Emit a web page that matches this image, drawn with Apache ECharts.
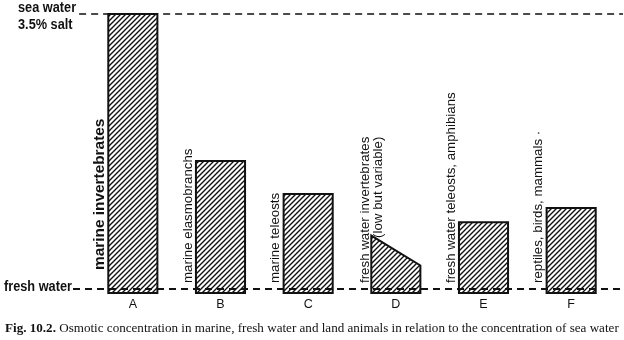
<!DOCTYPE html>
<html><head><meta charset="utf-8">
<script src="https://cdn.jsdelivr.net/npm/echarts@6/dist/echarts.min.js"></script>
<style>html,body{margin:0;padding:0;background:#fff}#c{width:624px;height:340px}</style>
</head><body><div id="c"></div>
<script>
// ---- data ----
const categories = ['A', 'B', 'C', 'D', 'E', 'F'];
// osmotic concentration (% salt) at the left and right edge of each block
const concLeft  = [3.5, 1.63, 1.21, 0.68, 0.85, 1.03];
const concRight = [3.5, 1.63, 1.21, 0.30, 0.85, 1.03];
const groupLabels = [
  ['marine invertebrates'],
  ['marine elasmobranchs'],
  ['marine teleosts'],
  ['fresh water invertebrates', '(low but variable)'],
  ['fresh water teleosts, amphibians'],
  ['reptiles, birds, mammals ·']
];
const refLevels = [0, 3.5];
const refNames = [['fresh water'], ['sea water', '3.5% salt']];
const captionBold = 'Fig. 10.2.';
const captionText = 'Osmotic concentration in marine, fresh water and land animals in relation to the concentration of sea water';

// ---- styling helpers ----
const Y_MIN = -0.05, Y_MAX = 3.5;
const SANS = '"Liberation Sans", Arial, Helvetica, sans-serif';
const ink = '#111';

const hatch = document.createElement('canvas');
hatch.width = 5; hatch.height = 5;
(function () {
  const g = hatch.getContext('2d');
  g.fillStyle = '#fff'; g.fillRect(0, 0, 5, 5);
  g.strokeStyle = ink; g.lineWidth = 1.4;
  g.beginPath();
  g.moveTo(-1, 6); g.lineTo(6, -1);
  g.moveTo(-1, 1); g.lineTo(1, -1);
  g.moveTo(4, 6); g.lineTo(6, 4);
  g.stroke();
})();

const meas = document.createElement('canvas').getContext('2d');
function textW(str, font) { meas.font = font; return meas.measureText(str).width; }

function renderBlock(params, api) {
  const i = api.value(0);
  const vl = api.value(1), vr = api.value(2);
  const c = api.coord([i, 0]);
  const bw = api.size([1, 0])[0] * 0.56;
  const x0 = c[0] - bw / 2, x1 = c[0] + bw / 2;
  const yb = api.coord([i, Y_MIN])[1];
  const yl = api.coord([i, vl])[1];
  const yr = api.coord([i, vr])[1];
  const children = [{
    type: 'polygon',
    shape: { points: [[x0, yb], [x0, yl], [x1, yr], [x1, yb]] },
    style: { fill: { image: hatch, repeat: 'repeat' }, stroke: ink, lineWidth: 2, lineJoin: 'miter' }
  }];
  const lines = groupLabels[i];
  const big = i === 0;
  const fs = big ? 15.4 : 13.3;
  const fw = big ? 'bold' : 'normal';
  const font = fw + ' ' + fs + 'px ' + SANS;
  const maxW = Math.max.apply(null, lines.map(s => textW(s, font)));
  const bottom = yb - (big ? 23 : 10);
  const top = bottom - maxW;
  const xc = lines.length > 1 ? x0 + 1 : x0 - (big ? 9 : 8);
  children.push({
    type: 'text',
    x: xc,
    y: top,
    rotation: Math.PI / 2,
    style: {
      text: lines.join('\n'),
      font: font,
      fill: ink,
      align: 'right',
      verticalAlign: 'middle',
      lineHeight: 13
    }
  });
  return { type: 'group', children: children };
}

function renderRef(params, api) {
  const idx = params.dataIndex;
  const v = api.value(0);
  const cs = params.coordSys;
  const y = api.coord([0, v])[1];
  const names = refNames[idx];
  const font = 'bold 15px ' + SANS;
  const sx = 0.85;
  const xEnd = cs.x + cs.width + 8;
  const children = [];
  let xStart;
  if (idx === 0) {
    xStart = cs.x - 16;
    children.push({ type: 'text', x: xStart - 1, y: y - 2, scaleX: sx,
      style: { text: names[0], font: font, fill: ink, align: 'right', verticalAlign: 'middle' } });
  } else {
    const tx = 18;
    xStart = tx + textW(names[0], font) * sx + 3;
    children.push({ type: 'text', x: tx, y: y - 6, scaleX: sx,
      style: { text: names[0], font: font, fill: ink, align: 'left', verticalAlign: 'middle' } });
    children.push({ type: 'text', x: tx, y: y + 11, scaleX: sx,
      style: { text: names[1], font: font, fill: ink, align: 'left', verticalAlign: 'middle' } });
  }
  children.push({ type: 'line', shape: { x1: xStart, y1: y, x2: xEnd, y2: y },
    style: { stroke: ink, lineWidth: idx === 0 ? 2 : 1.6, lineDash: [7, 5] } });
  return { type: 'group', children: children };
}

const chart = echarts.init(document.getElementById('c'), null, { renderer: 'canvas' });
chart.setOption({
  animation: false,
  backgroundColor: '#fff',
  title: {
    left: 0, top: 317,
    text: '{b|' + captionBold + '} ' + captionText,
    textStyle: {
      fontFamily: '"Liberation Serif", "Times New Roman", serif',
      fontSize: 13.1, fontWeight: 'normal', color: ink,
      rich: { b: { fontFamily: '"Liberation Serif", serif', fontSize: 13.1, fontWeight: 'bold', color: ink } }
    }
  },
  grid: { left: 89, right: 9, top: 14, bottom: 47 },
  xAxis: {
    type: 'category', data: categories,
    axisLine: { show: false }, axisTick: { show: false }, splitLine: { show: false },
    axisLabel: { color: ink, fontFamily: SANS, fontSize: 12.5, margin: 5 }
  },
  yAxis: { type: 'value', min: Y_MIN, max: Y_MAX, show: false },
  series: [
    {
      type: 'custom', renderItem: renderBlock, clip: false, z: 2,
      encode: { x: 0, y: [1, 2] },
      data: categories.map((c, i) => [i, concLeft[i], concRight[i]])
    },
    {
      type: 'custom', renderItem: renderRef, clip: false, z: 5,
      encode: { y: 0 },
      data: refLevels.map(v => [v])
    }
  ]
});
</script>
</body></html>
